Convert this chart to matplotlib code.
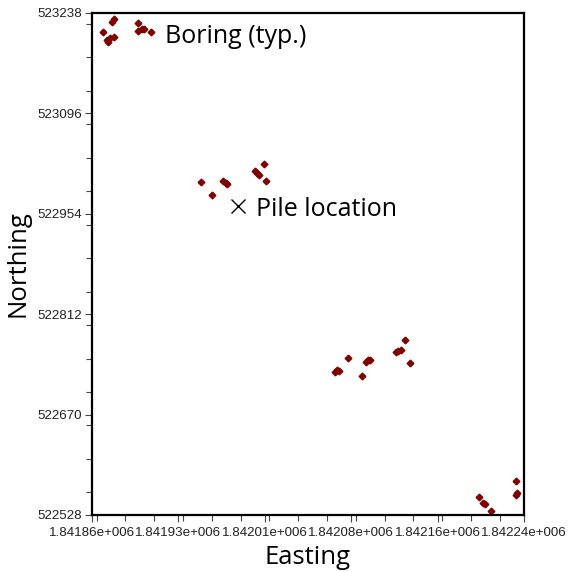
import matplotlib.pyplot as plt
from matplotlib.ticker import MultipleLocator

# boring locations (easting, northing)
boring_e = [1841873.6, 1841875.6, 1841865.7, 1841869.2, 1841870.1, 1841872.1,
            1841875.1, 1841896.5, 1841896.2, 1841900.0, 1841901.5, 1841907.9,
            1841951.9, 1841961.8, 1841971.5, 1841973.6, 1841974.5, 1841999.4,
            1842001.4, 1842002.9, 1842007.6, 1842009.1,
            1842069.7, 1842071.8, 1842073.5, 1842081.4, 1842093.2, 1842097.0,
            1842099.0, 1842100.5, 1842123.4, 1842125.4, 1842127.5, 1842131.3,
            1842135.7,
            1842196.7, 1842199.7, 1842201.7, 1842207.0, 1842229.0, 1842228.7,
            1842229.6]
boring_n = [523225.3, 523229.1, 523211.1, 523199.8, 523197.0, 523202.6,
            523204.1, 523223.9, 523212.5, 523215.8, 523214.9, 523211.1,
            522999.4, 522980.6, 523000.8, 522998.0, 522995.7, 523014.5,
            523011.3, 523009.3, 523024.4, 523000.8,
            522730.7, 522733.1, 522732.1, 522750.5, 522725.0, 522744.8,
            522747.2, 522747.2, 522759.0, 522760.0, 522761.4, 522775.5,
            522743.4,
            522553.0, 522544.6, 522543.2, 522533.7, 522576.1, 522556.3,
            522558.7]

pile_e = [1841984.7]
pile_n = [522965.5]

x_min, x_step = 1841856, 76
y_min, y_step = 522528, 142
x_labels = ["1.84186e+006", "1.84193e+006", "1.84201e+006",
            "1.84208e+006", "1.84216e+006", "1.84224e+006"]
y_labels = ["522528", "522670", "522812", "522954", "523096", "523238"]

fig = plt.figure(figsize=(5.71, 5.72), dpi=100)
ax = fig.add_axes([92/571, 57/572, 432/571, 502/572])

ax.plot(boring_e, boring_n, linestyle='none', marker='D', ms=3.4,
        color='#800000', mec='#800000')
ax.plot(pile_e, pile_n, linestyle='none', marker='x', ms=9.5, mew=1.0, color='black')

ax.text(1841920.2, 523204.5, "Boring (typ.)", fontsize=18, family='Open Sans',
        va='center', ha='left')
ax.text(1842000.3, 522959.5, "Pile location", fontsize=18, family='Open Sans',
        va='center', ha='left')

ax.set_xlim(x_min, x_min + 5 * x_step)
ax.set_ylim(y_min, y_min + 5 * y_step)
ax.set_xticks([x_min + i * x_step for i in range(6)])
ax.set_xticklabels(x_labels)
ax.set_yticks([y_min + i * y_step for i in range(6)])
ax.set_yticklabels(y_labels)
ax.xaxis.set_minor_locator(MultipleLocator(x_step / 3))
ax.yaxis.set_minor_locator(MultipleLocator(y_step / 3))

for lab in ax.get_xticklabels() + ax.get_yticklabels():
    lab.set_family('Liberation Sans')
    lab.set_fontsize(9.6)
    lab.set_color('#222222')
ax.tick_params(which='major', direction='out', length=5, width=0.8,
               color='#444444')
ax.tick_params(which='minor', direction='out', length=4, width=0.8,
               color='#444444')
ax.tick_params(axis='x', which='major', pad=4)
ax.tick_params(axis='y', which='major', pad=2)

for s in ax.spines.values():
    s.set_linewidth(1.6)
    s.set_color('black')

ax.set_xlabel("Easting", fontsize=18.5, family='Open Sans', labelpad=4)
ax.set_ylabel("Northing", fontsize=18.5, family='Open Sans', labelpad=5)

fig.savefig("out.png", dpi=100)
